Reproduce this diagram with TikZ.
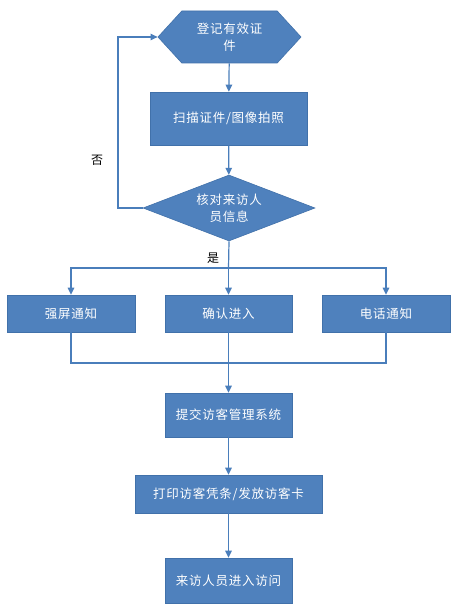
\documentclass[tikz,border=0pt]{standalone}
\usepackage{fontspec}
\newfontfamily\cjk[LetterSpace=6]{Noto Sans CJK SC}
\usetikzlibrary{shapes.geometric,shapes.symbols,arrows.meta}
\definecolor{box blue}{RGB}{79,129,189}
\definecolor{box edge}{RGB}{65,113,170}
\definecolor{line blue}{RGB}{74,126,187}
\tikzset{stepbox/.style={rectangle, fill=box blue, draw=box edge, line width=0.6pt,
    text=white, inner sep=0pt, font=\cjk\fontsize{12.5}{16.5}\selectfont},
    flow/.style={draw=line blue, line width=1.2pt, -{Triangle[length=7pt,width=6.5pt]}},
    joint/.style={draw=line blue, line width=1.2pt}}

\begin{document}
\begin{tikzpicture}[x=1pt,y=-1pt]
    \useasboundingbox[fill=white] (0,0) rectangle (455,610);
    % Definition of nodes
    \node[stepbox, signal, signal to=west and east, signal pointer angle=95,
      minimum width=143pt, minimum height=52pt, align=center] (register) at (229.5,37) {登记有效证\\件};
    \node[stepbox, minimum width=157pt, minimum height=53pt] (scan) at (228.5,118.5) {扫描证件/图像拍照};
    \node[stepbox, diamond, aspect=2.6, minimum width=172pt, minimum height=66pt, align=center] (check) at (229,208) {核对来访人\\员信息};
    \node[stepbox, minimum width=128pt, minimum height=37pt] (screen) at (71,313.5) {强屏通知};
    \node[stepbox, minimum width=127pt, minimum height=37pt] (confirm) at (228.5,313.5) {确认进入};
    \node[stepbox, minimum width=128pt, minimum height=37pt] (phone) at (386,313.5) {电话通知};
    \node[stepbox, minimum width=127pt, minimum height=44pt] (submit) at (228.5,415) {提交访客管理系统};
    \node[stepbox, minimum width=187pt, minimum height=38pt] (print) at (228.5,494) {打印访客凭条/发放访客卡};
    \node[stepbox, minimum width=127pt, minimum height=45pt] (enter) at (228.5,580.5) {来访人员进入访问};
    \coordinate (split) at (228.5,268);
    \coordinate (merge) at (228.5,363);
    \coordinate (back) at (118,208);
    %
    \draw[flow] (register) -- (scan);
    \draw[flow] (scan) -- (check);
    \draw[flow] (check.west) -- (back) |- (register.west);
    \node[font=\cjk\fontsize{12}{14}\selectfont] (no) at (97,160) {否};
    \draw[joint] (check.south) -- (split);
    \node[font=\cjk\fontsize{12}{14}\selectfont] (yes) at (213,258) {是};
    \draw[flow] (split) -| (screen);
    \draw[flow] (split) -- (confirm);
    \draw[flow] (split) -| (phone);
    \draw[joint] (screen) |- (merge);
    \draw[joint] (phone) |- (merge);
    \draw[flow] (confirm) -- (submit);
    \draw[flow] (submit) -- (print);
    \draw[flow] (print) -- (enter);
\end{tikzpicture}
\end{document}
